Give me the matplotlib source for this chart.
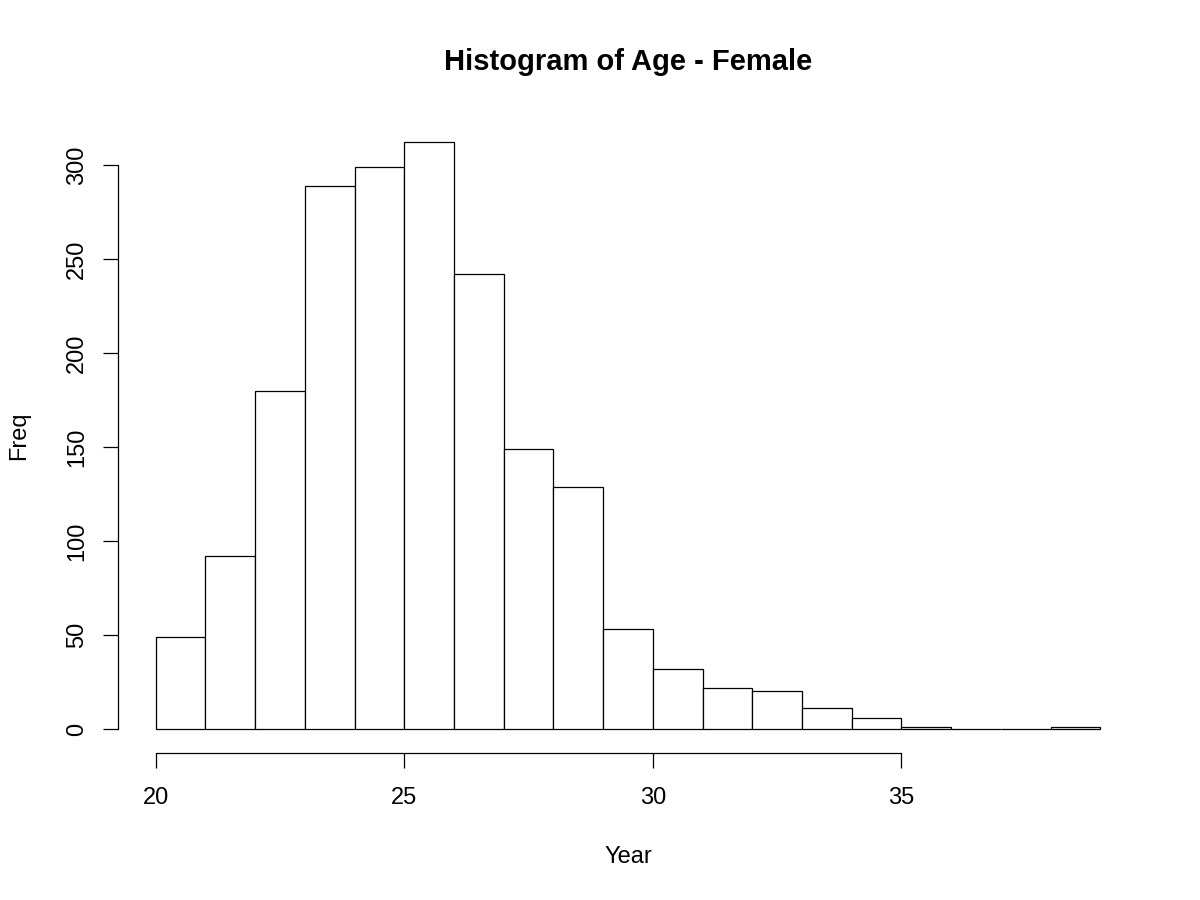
import numpy as np
import matplotlib.pyplot as plt

plt.rcParams['font.family'] = ['Liberation Sans', 'DejaVu Sans']

# age bins (left edges, width 1 year) and counts
bin_left = np.arange(20, 39)
counts = [49, 92, 180, 289, 299, 312, 242, 149, 129, 53,
          32, 22, 20, 11, 6, 1, 0, 0, 1]
x_ticks = [20, 25, 30, 35]
y_ticks = [0, 50, 100, 150, 200, 250, 300]

fig = plt.figure(figsize=(12, 9), dpi=100)
ax = fig.add_axes([118 / 1200, 1 - 752.5 / 900, 1020 / 1200, 633.5 / 900])

ax.bar(bin_left, counts, width=1, align='edge', facecolor='white',
       edgecolor='black', linewidth=0.9)

# R-like extents (4% padding)
ax.set_xlim(20 - 0.04 * 19, 39 + 0.04 * 19)
ax.set_ylim(-0.04 * 312, 312 * 1.04)

for s in ['top', 'right']:
    ax.spines[s].set_visible(False)
ax.spines['left'].set_bounds(0, 300)
ax.spines['bottom'].set_bounds(20, 35)
for s in ['left', 'bottom']:
    ax.spines[s].set_linewidth(0.9)

ax.set_xticks(x_ticks)
ax.set_yticks(y_ticks)
ax.tick_params(axis='both', length=10.5, width=0.9, labelsize=17)
ax.tick_params(axis='x', pad=14)
ax.tick_params(axis='y', pad=11)
plt.setp(ax.get_yticklabels(), rotation=90, va='center')

ax.set_xlabel('Year', fontsize=17, labelpad=27)
ax.set_ylabel('Freq', fontsize=17, labelpad=26)
ax.set_title('Histogram of Age - Female', fontsize=21, fontweight='bold', pad=35.5)

fig.savefig('out.png', dpi=100)
